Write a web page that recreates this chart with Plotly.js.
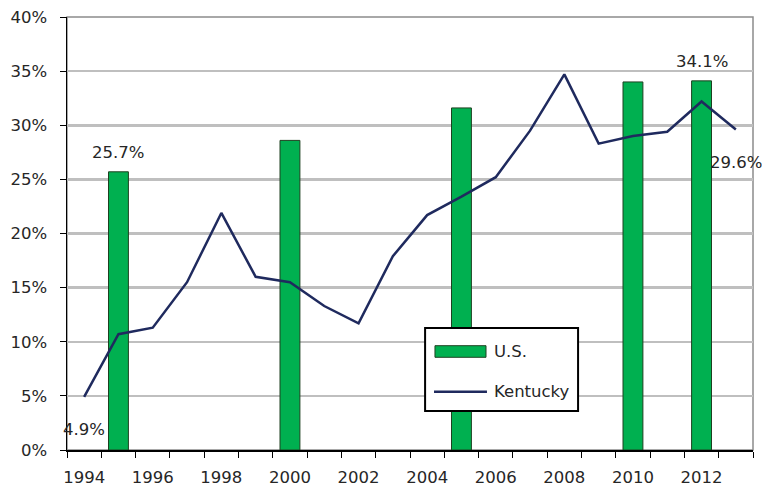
<!DOCTYPE html>
<html><head><meta charset="utf-8">
<script src="https://cdn.plot.ly/plotly-3.0.1.min.js"></script>
<style>html,body{margin:0;padding:0;background:#fff;}#chart{width:762px;height:489px;}</style>
</head><body><div id="chart"></div>
<script>
const years = [1994,1995,1996,1997,1998,1999,2000,2001,2002,2003,2004,2005,2006,2007,2008,2009,2010,2011,2012,2013];
const kentucky = [4.9,10.7,11.3,15.5,21.9,16.0,15.5,13.3,11.7,17.9,21.7,23.4,25.2,29.5,34.7,28.3,29.0,29.4,32.2,29.6];
const usYears = [1995,2000,2005,2010,2012];
const usValues = [25.7,28.6,31.6,34.0,34.1];
const yTicks = [0,5,10,15,20,25,30,35,40];
const xTickYears = [1994,1996,1998,2000,2002,2004,2006,2008,2010,2012];
const seriesNames = ['U.S.','Kentucky'];
const labelPoints = [
  {x:1995, y:25.7, text:'25.7%', shift:19},
  {x:1994, y:4.9, text:'4.9%', shift:-33},
  {x:2012, y:34.1, text:'34.1%', shift:19},
  {x:2013, y:29.6, text:'29.6%', shift:-33}
];

const GREEN = '#00B050', NAVY = '#1F2A5E';
const font = {family:'"DejaVu Sans", "Liberation Sans", sans-serif', size:16.5, color:'#262626'};

const traces = [
  {type:'bar', name:seriesNames[0], x:usYears, y:usValues.map(v=>v/100), width:0.58,
   marker:{color:GREEN, line:{color:'#1E4020', width:1}}, hoverinfo:'skip'},
  {type:'scatter', mode:'lines', name:seriesNames[1], x:years, y:kentucky.map(v=>v/100),
   line:{color:NAVY, width:2.5}, hoverinfo:'skip'}
];

const legendShapes = [
  {type:'rect', xref:'paper', yref:'paper', x0:0.522, x1:0.745, y0:0.090, y1:0.282, fillcolor:'#fff', line:{color:'#000', width:2}, layer:'above'},
  {type:'rect', xref:'paper', yref:'paper', x0:0.5364, x1:0.6108, y0:0.2141, y1:0.2409, fillcolor:GREEN, line:{color:'#1E4020', width:1}, layer:'above'},
  {type:'line', xref:'paper', yref:'paper', x0:0.535, x1:0.6122, y0:0.1346, y1:0.1346, line:{color:NAVY, width:2.5}, layer:'above'}
];
const legendTexts = [
  {xref:'paper', yref:'paper', x:0.6195, y:0.2275, xanchor:'left', yanchor:'middle', text:seriesNames[0], showarrow:false, font:font},
  {xref:'paper', yref:'paper', x:0.6195, y:0.1346, xanchor:'left', yanchor:'middle', text:seriesNames[1], showarrow:false, font:font}
];

const layout = {
  width:762, height:489,
  margin:{l:67, r:9, t:17, b:39},
  paper_bgcolor:'#fff', plot_bgcolor:'#fff',
  font:font,
  showlegend:false,
  xaxis:{range:[1993.5,2013.5], tickmode:'array', tickvals:xTickYears, ticktext:xTickYears.map(String),
         ticks:'', showgrid:false, zeroline:false, showline:true, linecolor:'#000', linewidth:1.5,
         tickfont:font, ticklabelstandoff:12,
         minor:{tickmode:'linear', tick0:1993.5, dtick:1, ticks:'outside', ticklen:6, tickcolor:'#000', showgrid:false}},
  yaxis:{range:[0,0.4], tickmode:'array', tickvals:yTicks.map(v=>v/100), ticktext:yTicks.map(v=>v+'%'),
         ticks:'outside', ticklen:6, tickcolor:'#000', showgrid:true, gridcolor:'#BFBFBF', gridwidth:2.5,
         zeroline:false, showline:true, linecolor:'#000', linewidth:1.5, tickfont:font, ticklabelstandoff:9},
  shapes:[{type:'rect', xref:'paper', yref:'paper', x0:0, x1:1, y0:0, y1:1, line:{color:'#8C8C8C', width:1.5}, layer:'below'}].concat(legendShapes),
  annotations: labelPoints.map(p=>({x:p.x, y:p.y/100, text:p.text, showarrow:false, yshift:p.shift, font:font})).concat(legendTexts)
};

Plotly.newPlot('chart', traces, layout, {staticPlot:true});
</script></body></html>
